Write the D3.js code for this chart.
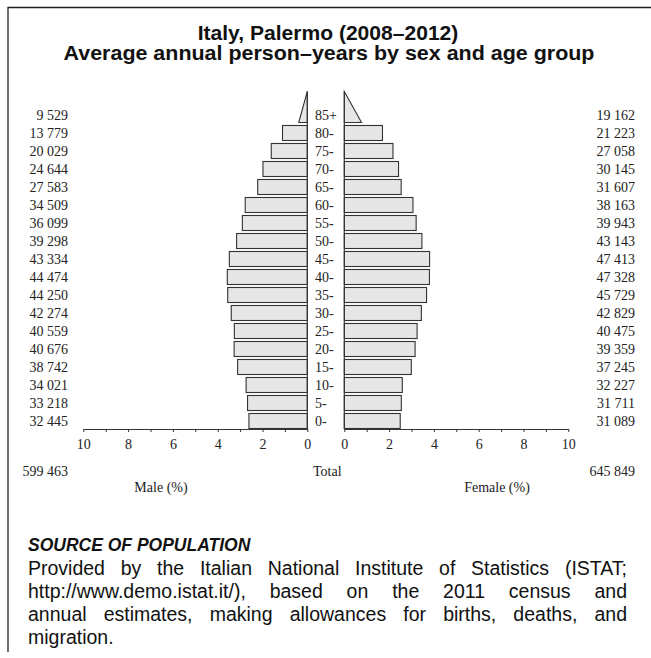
<!DOCTYPE html>
<html>
<head>
<meta charset="utf-8">
<script src="https://cdn.jsdelivr.net/npm/d3@7"></script>
<style>
  body { margin: 0; background: #fff; }
  svg { display: block; }
</style>
</head>
<body>
<div id="chart"></div>
<script>
// age groups, bottom to top
var ages = ["0-", "5-", "10-", "15-", "20-", "25-", "30-", "35-", "40-", "45-",
            "50-", "55-", "60-", "65-", "70-", "75-", "80-", "85+"];
var males = [32445, 33218, 34021, 38742, 40676, 40559, 42274, 44250, 44474, 43334,
             39298, 36099, 34509, 27583, 24644, 20029, 13779, 9529];
var females = [31089, 31711, 32227, 37245, 39359, 40475, 42829, 45729, 47328, 47413,
               43143, 39943, 38163, 31607, 30145, 27058, 21223, 19162];
var maleTotal = 599463, femaleTotal = 645849;
var tickValues = [0, 2, 4, 6, 8, 10];
var sourceLines = [
  "Provided by the Italian National Institute of Statistics (ISTAT;",
  "http://www.demo.istat.it/), based on the 2011 census and",
  "annual estimates, making allowances for births, deaths, and",
  "migration."
];

function makeChart() {
  var width = 651, height = 658;
  var grand = maleTotal + femaleTotal;
  var serif = "'Liberation Serif', 'DejaVu Serif', serif";
  var sans = "'Liberation Sans', Arial, sans-serif";

  var svg = d3.select("#chart").append("svg")
    .attr("width", width)
    .attr("height", height);

  // frame (top and left only)
  svg.append("path")
    .attr("d", "M8,652V7.5H651")
    .attr("fill", "none")
    .attr("stroke", "#222")
    .attr("stroke-width", 1.3);

  // title, a touch wider than the plain font
  function widen(sel, k) {
    var w = sel.node().getComputedTextLength();
    sel.attr("textLength", w * k).attr("lengthAdjust", "spacingAndGlyphs");
  }
  var t1 = svg.append("text")
    .attr("x", 328).attr("y", 40)
    .attr("text-anchor", "middle")
    .attr("font-family", sans).attr("font-weight", "bold").attr("font-size", 19.5)
    .attr("fill", "#111")
    .text("Italy, Palermo (2008\u20132012)");
  var t2 = svg.append("text")
    .attr("x", 329).attr("y", 60)
    .attr("text-anchor", "middle")
    .attr("font-family", sans).attr("font-weight", "bold").attr("font-size", 19.5)
    .attr("fill", "#111")
    .text("Average annual person\u2013years by sex and age group");
  widen(t1, 1.08);
  widen(t2, 1.1);

  var axisY = 429;
  var xL = d3.scaleLinear().domain([0, 10]).range([307.3, 83.3]);
  var xR = d3.scaleLinear().domain([0, 10]).range([344.3, 568.3]);
  var y = d3.scaleBand()
    .domain(ages.slice().reverse())
    .range([axisY - 0.5 - (18 * 18 - 3), axisY - 0.5])
    .paddingInner(3 / 18)
    .paddingOuter(0);

  var data = ages.map(function(a, i) {
    return { age: a, m: males[i], f: females[i],
             mp: males[i] / grand * 100, fp: females[i] / grand * 100 };
  });
  var rows = data.filter(function(d) { return d.age !== "85+"; });
  var top = data.filter(function(d) { return d.age === "85+"; })[0];

  var barFill = "#e6e6e6", barStroke = "#333";

  svg.append("g").selectAll("rect")
    .data(rows).enter().append("rect")
      .attr("x", function(d) { return xL(d.mp); })
      .attr("y", function(d) { return y(d.age); })
      .attr("width", function(d) { return xL(0) - xL(d.mp); })
      .attr("height", y.bandwidth())
      .attr("fill", barFill).attr("stroke", barStroke).attr("stroke-width", 1.1);

  svg.append("g").selectAll("rect")
    .data(rows).enter().append("rect")
      .attr("x", xR(0))
      .attr("y", function(d) { return y(d.age); })
      .attr("width", function(d) { return xR(d.fp) - xR(0); })
      .attr("height", y.bandwidth())
      .attr("fill", barFill).attr("stroke", barStroke).attr("stroke-width", 1.1);

  // open-ended age group drawn as a triangle
  var triBase = y(top.age) + y.bandwidth();
  var triTop = y(top.age) - y.bandwidth() - 1;
  svg.append("path")
    .attr("d", "M" + xL(0) + "," + triTop + "L" + xL(0) + "," + triBase +
               "L" + xL(top.mp / 2) + "," + triBase + "Z")
    .attr("fill", barFill).attr("stroke", barStroke).attr("stroke-width", 1.1);
  svg.append("path")
    .attr("d", "M" + xR(0) + "," + triTop + "L" + xR(0) + "," + triBase +
               "L" + xR(top.fp / 2) + "," + triBase + "Z")
    .attr("fill", barFill).attr("stroke", barStroke).attr("stroke-width", 1.1);

  // zero lines
  [xL(0), xR(0)].forEach(function(x0) {
    svg.append("line")
      .attr("x1", x0).attr("x2", x0)
      .attr("y1", triTop).attr("y2", axisY)
      .attr("stroke", barStroke).attr("stroke-width", 1.1);
  });

  var fmt = function(v) { return d3.format(",")(v).replace(/,/g, " "); };

  // age labels and counts
  var lab = svg.append("g").attr("font-family", serif).attr("font-size", 14).attr("fill", "#222");
  lab.selectAll(".age").data(data).enter().append("text")
    .attr("x", 315)
    .attr("y", function(d) { return y(d.age) + y.bandwidth() / 2; })
    .attr("dy", "0.35em")
    .text(function(d) { return d.age; });
  lab.selectAll(".ml").data(data).enter().append("text")
    .attr("x", 68).attr("text-anchor", "end")
    .attr("y", function(d) { return y(d.age) + y.bandwidth() / 2; })
    .attr("dy", "0.35em")
    .text(function(d) { return fmt(d.m); });
  lab.selectAll(".fl").data(data).enter().append("text")
    .attr("x", 635).attr("text-anchor", "end")
    .attr("y", function(d) { return y(d.age) + y.bandwidth() / 2; })
    .attr("dy", "0.35em")
    .text(function(d) { return fmt(d.f); });

  // axes
  function styleAxis(g) {
    g.select(".domain").attr("stroke", "#333").attr("stroke-width", 1.1);
    g.selectAll(".tick line").attr("stroke", "#333");
    g.selectAll(".tick text").attr("font-family", serif).attr("font-size", 14).attr("fill", "#222");
  }
  [xL, xR].forEach(function(sc) {
    var g = svg.append("g").attr("transform", "translate(0," + axisY + ")");
    g.call(d3.axisBottom(sc).ticks(10).tickSize(3).tickSizeOuter(0)
      .tickFormat(function(v) { return tickValues.indexOf(v) >= 0 ? v : ""; }))
      .call(styleAxis);
    g.selectAll(".tick text").attr("dy", "1.0em");
  });

  lab.append("text").attr("x", 68).attr("y", 476).attr("text-anchor", "end").text(fmt(maleTotal));
  lab.append("text").attr("x", 313).attr("y", 476).text("Total");
  lab.append("text").attr("x", 635).attr("y", 476).attr("text-anchor", "end").text(fmt(femaleTotal));
  lab.append("text").attr("x", 161).attr("y", 492).attr("text-anchor", "middle").text("Male (%)");
  lab.append("text").attr("x", 497).attr("y", 492).attr("text-anchor", "middle").text("Female (%)");

  // source text
  svg.append("text")
    .attr("x", 28).attr("y", 551)
    .attr("font-family", sans).attr("font-weight", "bold").attr("font-style", "italic")
    .attr("font-size", 17.5).attr("fill", "#111")
    .text("SOURCE OF POPULATION");

  var left = 28, right = 627;
  sourceLines.forEach(function(line, i) {
    var t = svg.append("text")
      .attr("y", 575 + i * 23)
      .attr("font-family", sans).attr("font-size", 19.5).attr("fill", "#111");
    var words = line.split(" ");
    var spans = words.map(function(w) { return t.append("tspan").text(w); });
    var widths = spans.map(function(s) { return s.node().getComputedTextLength(); });
    var total = d3.sum(widths);
    var last = i === sourceLines.length - 1;
    var gap = last ? 5 : (right - left - total) / (words.length - 1);
    var x = left;
    spans.forEach(function(s, j) {
      s.attr("x", x);
      x += widths[j] + gap;
    });
  });
}

makeChart();
</script>
</body>
</html>
